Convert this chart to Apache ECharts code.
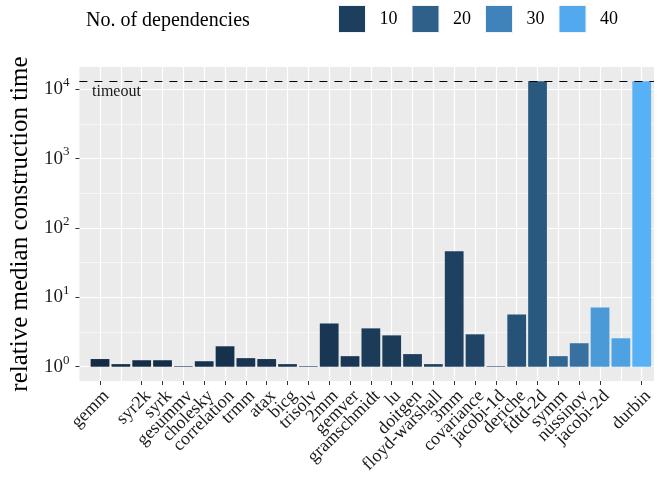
<!DOCTYPE html>
<html><head><meta charset="utf-8">
<script src="https://cdn.jsdelivr.net/npm/echarts@6/dist/echarts.min.js"></script>
<style>html,body{margin:0;padding:0;background:#fff}#c{width:664px;height:483px}</style>
</head><body><div id="c"></div>
<script>
const categories = ['gemm','mvt','syr2k','syrk','gesummv','cholesky','correlation','trmm','atax','bicg','trisolv','2mm','gemver','gramschmidt','lu','doitgen','floyd-warshall','3mm','covariance','jacobi-1d','deriche','fdtd-2d','symm','nussinov','jacobi-2d','seidel-2d','durbin'];
const relTime = [1.29,1.09,1.24,1.24,1.02,1.2,1.97,1.33,1.29,1.09,1.02,4.2,1.42,3.57,2.83,1.52,1.09,46,2.93,1.02,5.65,13000,1.42,2.18,7.12,2.57,13000];
const dependencies = [4,5,5,5,6,6,6,7,7,7,7,8,8,9,9,10,10,11,12,13,16,18,22,25,36,38,42];
const timeout = 13000;
const legendBreaks = [10,20,30,40];
const yMajor = [1,10,100,1000,10000];
const yMinor = [Math.pow(10,0.5),Math.pow(10,1.5),Math.pow(10,2.5),Math.pow(10,3.5)];

const FONT = 'Liberation Serif';
function hexToRgb(h){return [parseInt(h.slice(1,3),16),parseInt(h.slice(3,5),16),parseInt(h.slice(5,7),16)];}
function toLin(c){c/=255;return c<=0.04045?c/12.92:Math.pow((c+0.055)/1.055,2.4);}
function fromLin(c){c=c<=0.0031308?12.92*c:1.055*Math.pow(c,1/2.4)-0.055;return Math.max(0,Math.min(255,Math.round(c*255)));}
function rgbToLab(rgb){const [r,g,b]=rgb.map(toLin);const X=(0.4124*r+0.3576*g+0.1805*b)/0.95047,Y=(0.2126*r+0.7152*g+0.0722*b),Z=(0.0193*r+0.1192*g+0.9505*b)/1.08883;const f=t=>t>0.008856?Math.cbrt(t):7.787*t+16/116;const fx=f(X),fy=f(Y),fz=f(Z);return [116*fy-16,500*(fx-fy),200*(fy-fz)];}
function labToHex(lab){const [L,a,b]=lab;const fy=(L+16)/116,fx=fy+a/500,fz=fy-b/200;const fi=t=>t*t*t>0.008856?t*t*t:(t-16/116)/7.787;const X=fi(fx)*0.95047,Y=fi(fy),Z=fi(fz)*1.08883;const r=3.2406*X-1.5372*Y-0.4986*Z,g=-0.9689*X+1.8758*Y+0.0415*Z,bb=0.0557*X-0.2040*Y+1.0570*Z;return '#'+[r,g,bb].map(fromLin).map(v=>v.toString(16).padStart(2,'0')).join('');}
const lowLab = rgbToLab(hexToRgb('#132B43')), highLab = rgbToLab(hexToRgb('#56B1F7'));
const depMin = Math.min(...dependencies), depMax = Math.max(...dependencies);
function colorFor(d){const t=Math.max(0,Math.min(1,(d-depMin)/(depMax-depMin)));return labToHex(lowLab.map((v,i)=>v+(highLab[i]-v)*t));}

const span = Math.log10(timeout);
const yMin = Math.pow(10, -0.05*span), yMax = Math.pow(10, span*1.05);
const idx = categories.map((c,i)=>i);
const xMin = -0.99, xMax = categories.length - 0.41;

const chart = echarts.init(document.getElementById('c'));
const series = [{
  type:'bar', xAxisIndex:0, yAxisIndex:0, barWidth:'90%', z:3,
  data: relTime.map((v,i)=>({value:[i, v], itemStyle:{color:colorFor(dependencies[i])}})),
  markLine:{silent:true, symbol:['none','none'], z:4,
    lineStyle:{color:'#000', type:[8,7], width:1.2},
    label:{show:false},
    data:[{yAxis:timeout}]}
}];
legendBreaks.forEach(b=>series.push({type:'line', name:String(b), data:[], xAxisIndex:0, yAxisIndex:0, itemStyle:{color:colorFor(b)}, lineStyle:{color:colorFor(b)}}));

const option = {
  animation:false,
  backgroundColor:'#fff',
  title:{text:'No. of dependencies', left:86, top:11, padding:0, textStyle:{fontFamily:FONT, fontWeight:'normal', fontSize:20, color:'#000'}},
  legend:{left:338, top:5, padding:0, icon:'rect', itemWidth:27, itemHeight:27, itemGap:14,
    itemStyle:{borderColor:'#f2f2f2', borderWidth:1},
    textStyle:{fontFamily:FONT, fontSize:18, color:'#000', padding:[0,0,0,9]},
    data:legendBreaks.map(String)},
  grid:{left:76, right:10, top:67, bottom:102, show:true, backgroundColor:'#ebebeb', borderWidth:0},
  xAxis:[{
    type:'value', min:xMin, max:xMax,
    axisLine:{show:false, onZero:false},
    axisTick:{show:true, length:4, lineStyle:{color:'#333'}, customValues:idx},
    splitLine:{show:true, lineStyle:{color:'#fff', width:1.2}},
    axisLabel:{customValues:idx, showMinLabel:true, showMaxLabel:true, hideOverlap:false,
      formatter:v=>categories[Math.round(v)], rotate:45, align:'right', verticalAlign:'top', fontFamily:FONT, fontSize:18, color:'#1a1a1a', margin:6}
  }],
  yAxis:[{
    type:'log', logBase:10, min:yMin, max:yMax,
    name:'relative median construction time', nameLocation:'middle', nameGap:40,
    nameTextStyle:{fontFamily:FONT, fontSize:25, color:'#000'},
    axisLine:{show:false, onZero:false},
    axisTick:{show:true, length:4, lineStyle:{color:'#333'}, customValues:yMajor},
    axisLabel:{customValues:yMajor, showMinLabel:true, showMaxLabel:true, margin:10, color:'#1a1a1a',
      formatter:v=>'{b|10}{s|'+Math.round(Math.log10(v))+'}',
      rich:{b:{fontFamily:FONT, fontSize:19, color:'#1a1a1a', lineHeight:26}, s:{fontFamily:FONT, fontSize:13, color:'#1a1a1a', verticalAlign:'top'}}},
    splitLine:{show:true, lineStyle:{color:'#fff', width:1.2}}
  },{
    type:'log', logBase:10, min:yMin, max:yMax, position:'left',
    axisLine:{show:false, onZero:false}, axisLabel:{show:false},
    axisTick:{show:false, customValues:yMinor},
    splitLine:{show:true, lineStyle:{color:'#fff', width:0.6}}
  }],
  series:series
};
chart.setOption(option);
// "timeout" caption placed just below the timeout line, via the chart's own scale
const tp = chart.convertToPixel({xAxisIndex:0, yAxisIndex:0}, [0, timeout]);
const gridLeft = option.grid.left;
chart.setOption({graphic:[{type:'text', left:gridLeft+16, top:tp[1]+3, silent:true,
  style:{text:'timeout', fontFamily:FONT, fontSize:16, fill:'#1a1a1a'}}]});
</script></body></html>
